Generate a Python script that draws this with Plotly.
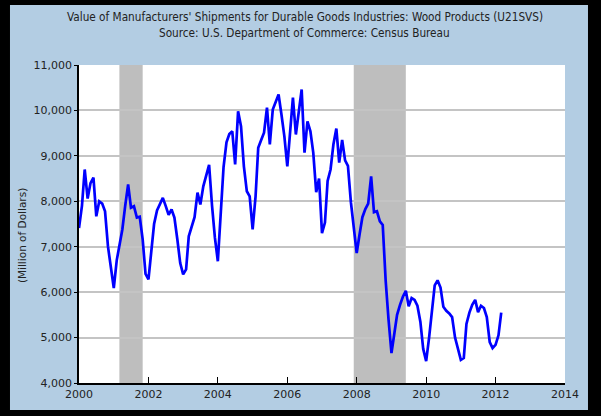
import pandas as pd
import plotly.graph_objects as go

# Monthly values (Million of Dollars), Jan 2000 .. Mar 2012
v2000 = [7410, 7900, 8700, 8060, 8400, 8520, 7670, 8000, 7950, 7780, 7000, 6550]
v2001 = [6090, 6700, 7010, 7380, 7900, 8370, 7860, 7890, 7640, 7660, 7160, 6400]
v2002 = [6280, 7010, 7500, 7800, 7950, 8075, 7900, 7700, 7820, 7640, 7160, 6640]
v2003 = [6390, 6500, 7230, 7450, 7650, 8190, 7930, 8330, 8600, 8800, 7900, 7200]
v2004 = [6680, 7700, 8750, 9300, 9480, 9540, 8810, 9980, 9650, 8770, 8220, 8110]
v2005 = [7380, 8110, 9180, 9350, 9510, 10060, 9250, 10020, 10200, 10350, 9900, 9430]
v2006 = [8770, 9600, 10280, 9470, 10020, 10460, 9070, 9760, 9540, 9070, 8200, 8500]
v2007 = [7300, 7530, 8450, 8700, 9250, 9600, 8850, 9350, 8900, 8780, 7980, 7400]
v2008 = [6860, 7280, 7650, 7830, 7950, 8550, 7760, 7780, 7560, 7480, 6250, 5400]
v2009 = [4660, 5100, 5500, 5720, 5900, 6030, 5690, 5870, 5830, 5700, 5350, 4750]
v2010 = [4480, 5000, 5600, 6150, 6260, 6100, 5680, 5590, 5530, 5450, 5000, 4750]
v2011 = [4510, 4550, 5300, 5550, 5720, 5830, 5560, 5700, 5650, 5450, 4900, 4770]
v2012 = [4840, 5050, 5550]

values = (v2000 + v2001 + v2002 + v2003 + v2004 + v2005 + v2006 + v2007
          + v2008 + v2009 + v2010 + v2011 + v2012)
dates = pd.date_range("2000-01-01", periods=len(values), freq="MS")

rec_start = ["2001-03-01", "2007-12-01"]
rec_end = ["2001-11-01", "2009-06-01"]

title1 = "Value of Manufacturers' Shipments for Durable Goods Industries: Wood Products (U21SVS)"
title2 = "Source: U.S. Department of Commerce: Census Bureau"
ylabel = "(Million of Dollars)"

fig = go.Figure()
fig.add_trace(go.Scatter(x=dates, y=values, mode="lines",
                         line=dict(color="#0000ff", width=2.7),
                         hoverinfo="skip", showlegend=False))

shapes = [
    dict(type="rect", xref="paper", yref="paper", x0=-0.142, x1=1.0473,
         y0=-0.0849, y1=1.1887, fillcolor="#b3cde3", line=dict(width=0), layer="below"),
    dict(type="rect", xref="paper", yref="paper", x0=0, x1=1, y0=0, y1=1,
         fillcolor="white", line=dict(width=0), layer="below"),
]
for s, e in zip(rec_start, rec_end):
    shapes.append(dict(type="rect", xref="x", yref="paper", x0=s, x1=e, y0=0, y1=1,
                       fillcolor="#bebebe", line=dict(width=0), layer="between"))

fig.update_layout(
    width=601, height=416,
    margin=dict(l=79, r=36, t=65, b=33),
    paper_bgcolor="black", plot_bgcolor="white",
    shapes=shapes,
    font=dict(family="DejaVu Sans", size=11, color="#222222"),
    annotations=[
        dict(text=title1, xref="paper", yref="paper", x=0.465, y=1.151,
             xanchor="center", yanchor="middle", showarrow=False,
             font=dict(family="DejaVu Sans Condensed", size=11.7, color="#222222")),
        dict(text=title2, xref="paper", yref="paper", x=0.465, y=1.1006,
             xanchor="center", yanchor="middle", showarrow=False,
             font=dict(family="DejaVu Sans Condensed", size=11.7, color="#222222")),
        dict(text=ylabel, xref="paper", yref="paper", x=-0.1173, y=0.465,
             xanchor="center", yanchor="middle", showarrow=False, textangle=-90,
             font=dict(family="DejaVu Sans", size=10.5, color="#222222")),
    ],
)
fig.update_xaxes(type="date", range=["2000-01-01", "2014-01-01"], dtick="M24",
                 tick0="2000-01-01", tickformat="%Y", showgrid=False,
                 showline=True, linecolor="black", linewidth=1.5,
                 ticks="inside", ticklen=6, tickcolor="black", tickwidth=1,
                 zeroline=False, fixedrange=True)
fig.update_yaxes(range=[4000, 11000], dtick=1000, tickformat=",.0f",
                 showgrid=True, gridcolor="#c4c4c4", gridwidth=1.5,
                 showline=True, linecolor="black", linewidth=1.5,
                 ticks="outside", ticklen=3, tickcolor="black", tickwidth=1,
                 zeroline=False, fixedrange=True)

fig.write_html(
    "out.html",
    config={"displayModeBar": False},
    post_script="document.body.style.margin='0';document.body.style.background='black';",
)
